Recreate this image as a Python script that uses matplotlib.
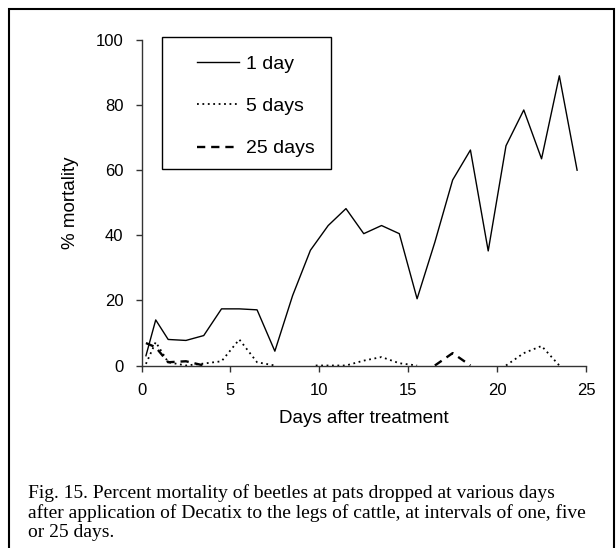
import numpy as np
import matplotlib
matplotlib.use("Agg")
import matplotlib.pyplot as plt
from matplotlib.patches import Rectangle

plt.rcParams['font.family'] = ['Liberation Sans', 'DejaVu Sans']

# ---- data ----
days_1 = [0.25, 0.8, 1.5, 2.5, 3.5, 4.5, 5.5, 6.5, 7.5, 8.5, 9.5, 10.5, 11.5, 12.5,
          13.5, 14.5, 15.5, 16.5, 17.5, 18.5, 19.5, 20.5, 21.5, 22.5, 23.5, 24.5]
mort_1 = [3, 14, 8, 7.7, 9.2, 17.4, 17.4, 17.1, 4.4, 21.5, 35.4, 43, 48.2, 40.5,
          43, 40.5, 20.5, 37.9, 57, 66.2, 35.2, 67.5, 78.5, 63.5, 89, 60]

days_5 = [0.25, 0.8, 1.5, 2.5, 3.5, 4.5, 5.5, 6.5, 7.5, np.nan,
          9.8, 10.5, 11.5, 12.5, 13.5, 14.5, 15.5, np.nan,
          20.5, 21.5, 22.5, 23.5]
mort_5 = [0.5, 7.2, 1, 0, 0.6, 1.3, 8, 1, 0, np.nan,
          0, 0, 0, 1.5, 2.6, 0.7, 0, np.nan,
          0, 3.8, 6, 0]

days_25 = [0.25, 0.8, 1.5, 2.5, 3.5, np.nan, 16.5, 17.5, 18.5]
mort_25 = [6.9, 5.6, 1, 1.3, 0, np.nan, 0, 3.8, 0]

labels = ['1 day', '5 days', '25 days']
x_ticks = [0, 5, 10, 15, 20, 25]
y_ticks = [0, 20, 40, 60, 80, 100]

caption_lines = [
    "Fig. 15. Percent mortality of beetles at pats dropped at various days",
    "after application of Decatix to the legs of cattle, at intervals of one, five",
    "or 25 days.",
]

W, H = 616, 548
fig = plt.figure(figsize=(W / 100, H / 100), dpi=100)
fig.patch.set_facecolor('white')

ax_l, ax_r, ax_t, ax_b = 141.5, 586, 40, 365.5
ax = fig.add_axes([ax_l / W, 1 - ax_b / H, (ax_r - ax_l) / W, (ax_b - ax_t) / H])

ax.plot(days_1, mort_1, color='black', lw=1.0, label=labels[0], clip_on=False)
ax.plot(days_5, mort_5, color='black', lw=1.3, linestyle=(0, (1, 2)),
        label=labels[1], clip_on=False)
ax.plot(days_25, mort_25, color='black', lw=1.7, linestyle=(0, (3.5, 2.5)),
        label=labels[2], clip_on=False)

ax.set_xlim(0, 25)
ax.set_ylim(0, 100)
ax.set_xticks(x_ticks)
ax.set_yticks(y_ticks)
for s in ['top', 'right']:
    ax.spines[s].set_visible(False)
for s in ['left', 'bottom']:
    ax.spines[s].set_color('#333333')
    ax.spines[s].set_linewidth(1.0)
ax.tick_params(axis='both', direction='out', length=4.5, width=1.0,
               color='#333333', labelsize=12)
ax.tick_params(axis='x', pad=8)
ax.tick_params(axis='y', pad=8.5)
ax.set_xlabel('Days after treatment', fontsize=13.5, labelpad=9)
ax.set_ylabel('% mortality', fontsize=13.5, labelpad=12)

# legend (frame drawn as separate rectangle)
leg = ax.legend(loc='upper left',
                bbox_to_anchor=(181 / W, 1 - 40 / H),
                bbox_transform=fig.transFigure,
                frameon=False, fontsize=14, handlelength=2.2,
                handletextpad=0.36, labelspacing=1.26, borderpad=0.3)
fig.add_artist(Rectangle((162 / W, 1 - 169 / H), (331 - 162) / W, (169 - 37) / H,
                         transform=fig.transFigure, fill=False,
                         edgecolor='black', lw=1.0))

# outer frame
fig.add_artist(Rectangle((9 / W, -0.05), (614 - 9) / W, 1 - 9 / H + 0.05,
                         transform=fig.transFigure, fill=False,
                         edgecolor='black', lw=1.5, clip_on=False))

for i, line in enumerate(caption_lines):
    fig.text(28 / W, 1 - (498 + 19.5 * i) / H, line,
             family=['Liberation Serif', 'DejaVu Serif'],
             fontsize=14, va='baseline', ha='left')

fig.savefig('out.png', dpi=100)
